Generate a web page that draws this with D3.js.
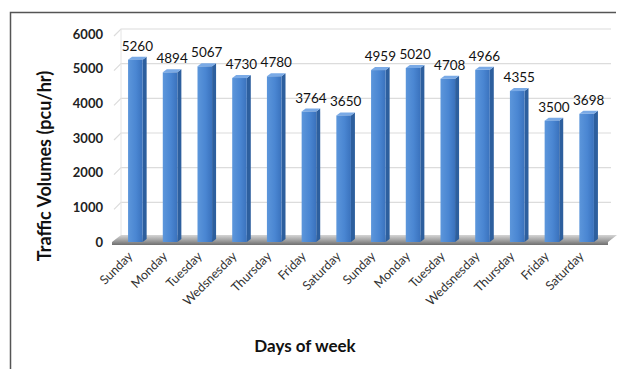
<!DOCTYPE html>
<html><head><meta charset="utf-8">
<script src="https://cdn.jsdelivr.net/npm/d3@7"></script>
<style>
html,body{margin:0;padding:0;background:#fff;}
svg{display:block;}
text{font-family:Lato,"Open Sans",sans-serif;}
</style></head>
<body>
<svg id="c" width="619" height="369"></svg>
<script>
const days = ["Sunday","Monday","Tuesday","Wedsnesday","Thursday","Friday","Saturday",
              "Sunday","Monday","Tuesday","Wedsnesday","Thursday","Friday","Saturday"];
const volumes = [5260,4894,5067,4730,4780,3764,3650,4959,5020,4708,4966,4355,3500,3698];
const yTicks = [0,1000,2000,3000,4000,5000,6000];
const yTitle = "Traffic Volumes (pcu/hr)";
const xTitle = "Days of week";

const svg = d3.select("#c");
const x0 = 116, x1 = 606;
const dx = 5, dy = -7;
const bdx = 4, bdy = -3;

const ids = days.map((d,i)=>i);
const x = d3.scaleBand().domain(ids).range([x0+2, x1-2]).paddingInner(0.58).paddingOuter(0.29);
const y = d3.scaleLinear().domain([0,6000]).range([242,34]);

const defs = svg.append("defs");
const gf = defs.append("linearGradient").attr("id","front");
gf.append("stop").attr("offset","0%").attr("stop-color","#5c96db");
gf.append("stop").attr("offset","55%").attr("stop-color","#4a86d2");
gf.append("stop").attr("offset","100%").attr("stop-color","#3a72bd");
const gfl = defs.append("linearGradient").attr("id","floor").attr("x1",0).attr("y1",0).attr("x2",0).attr("y2",1);
gfl.append("stop").attr("offset","0%").attr("stop-color","#d5d5d5");
gfl.append("stop").attr("offset","60%").attr("stop-color","#9a9a9a");
gfl.append("stop").attr("offset","100%").attr("stop-color","#6f6f6f");

// frame
svg.append("path").attr("d","M10.5,369 L10.5,12.5 L616,12.5").attr("fill","none").attr("stroke","#555").attr("stroke-width",1.5);

// gridlines
const grid = svg.append("g");
yTicks.forEach(t=>{
  if(t===0) return;
  const yf = y(t);
  grid.append("path")
    .attr("d",`M${x0-2},${yf+2} L${x0+dx},${yf+dy+2} L${x1+dx},${yf+dy+2}`)
    .attr("fill","none").attr("stroke","#dcdcdc").attr("stroke-width",1.2);
});
grid.append("path").attr("d",`M${x0+dx},${y(6000)+dy+2} L${x0+dx},${y(0)+dy}`).attr("stroke","#e4e4e4").attr("fill","none");

// floor
const fy = y(0);
svg.append("path")
  .attr("d",`M${x0-4},${fy} L${x0+dx},${fy+dy} L${x1+dx+6},${fy+dy} L${x1+2},${fy} L${x1+2},${fy+3} L${x0-4},${fy+3} Z`)
  .attr("fill","url(#floor)");

// y tick labels
const ya = d3.axisLeft(y).tickValues(yTicks).tickSize(0).tickPadding(0).tickFormat(d3.format("d"));
const yg = svg.append("g").attr("transform","translate(103,0)").call(ya);
yg.select(".domain").remove();
yg.selectAll("text").attr("font-size",13).attr("fill","#222").attr("font-weight","bold").style("font-family",'Lato,"Open Sans",sans-serif');

// bars
const bars = svg.append("g").selectAll("g").data(ids).join("g");
const bw = x.bandwidth();
bars.append("path").attr("fill","#2d5f9e")
  .attr("d",i=>{const xl=x(i)+bw, yt=y(volumes[i]);return `M${xl},${yt} L${xl+bdx},${yt+bdy} L${xl+bdx},${fy+bdy} L${xl},${fy} Z`;});
bars.append("path").attr("fill","#7aaae6")
  .attr("d",i=>{const xl=x(i), yt=y(volumes[i]);return `M${xl},${yt} L${xl+bdx},${yt+bdy} L${xl+bw+bdx},${yt+bdy} L${xl+bw},${yt} Z`;});
bars.append("rect").attr("fill","url(#front)")
  .attr("x",i=>x(i)).attr("y",i=>y(volumes[i])).attr("width",bw).attr("height",i=>fy-y(volumes[i]));

// value labels
bars.append("text").attr("x",i=>x(i)+bw/2+2).attr("y",i=>y(volumes[i])-9)
  .attr("text-anchor","middle").attr("font-size",13.5).attr("fill","#111").text(i=>volumes[i]);

// x labels
svg.append("g").selectAll("text").data(ids).join("text")
  .attr("transform",i=>`translate(${x(i)+bw/2-2},${fy+15}) rotate(-45)`)
  .attr("text-anchor","end").attr("font-size",12.5).attr("fill","#333").text(i=>days[i]);

// titles
svg.append("text").attr("transform","translate(51,166) rotate(-90)").attr("text-anchor","middle")
  .attr("font-size",18).attr("font-weight","bold").attr("fill","#111").text(yTitle);
svg.append("text").attr("x",305).attr("y",352).attr("text-anchor","middle")
  .attr("font-size",17).attr("font-weight","bold").attr("fill","#111").text(xTitle);
</script>
</body></html>
